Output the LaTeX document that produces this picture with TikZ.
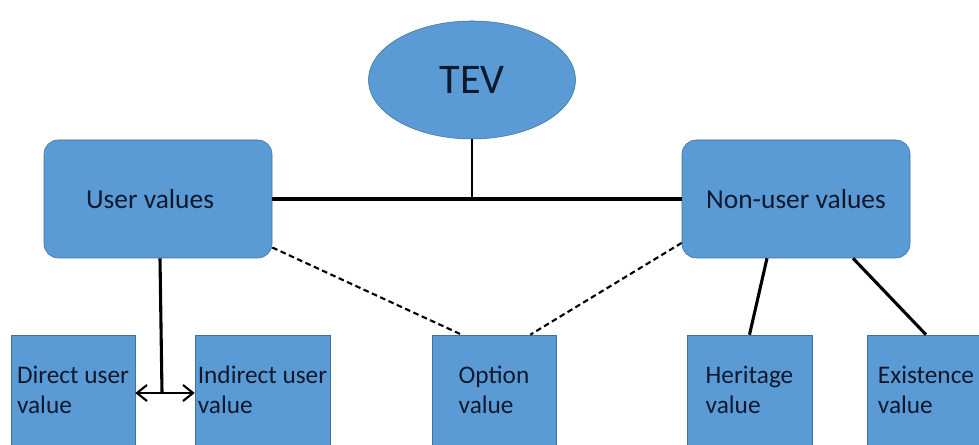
\documentclass[tikz,border=0pt]{standalone}
\usepackage{fontspec}
\setmainfont{Carlito}
\usepackage{tikz}
\usetikzlibrary{shapes.geometric, arrows.meta, positioning}
\definecolor{cFill}{RGB}{91,155,213}
\definecolor{cEdge}{RGB}{65,113,156}
\definecolor{cText}{RGB}{15,25,45}
\tikzset{
	topnode/.style ={ellipse, minimum width=5.175cm, minimum height=2.95cm, text centered, draw=cEdge, fill=cFill, text=cText, font=\fontsize{30}{34}\selectfont},
	groupbox/.style={rectangle, rounded corners=10pt, minimum width=5.7cm, minimum height=2.95cm, text centered, draw=cEdge, fill=cFill, text=cText, font=\fontsize{19.5}{23}\selectfont},
	leafbox/.style ={rectangle, minimum width=3.1cm, minimum height=2.75cm, align=left, inner sep=2pt, draw=cEdge, fill=cFill, text=cText, font=\fontsize{18}{21.5}\selectfont},
	tieline/.style ={line width=2.2pt},
	optline/.style ={line width=1.5pt, dash pattern=on 4pt off 2.5pt},
	% arrow between the two user values
	splitarrow/.style={{Straight Barb[length=2.5mm, width=4mm]}-{Straight Barb[length=2.5mm, width=4mm]}, line width=1.5pt},
}

\begin{document}
\begin{tikzpicture}
	\useasboundingbox (0,0) rectangle (24.475,11.125);
	\clip (0,0) rectangle (24.475,11.125);
	\node[topnode] (tev) at (11.8,9.125) {TEV};
	\node[groupbox] (user) at (3.95,6.15) {User values\hspace*{0.4cm}};
	\node[groupbox] (nonuser) at (19.9,6.15) {Non-user values};
	\node[leafbox] (direct) at (1.825,1.375) {Direct user\\value};
	\node[leafbox, minimum width=3.375cm] (indirect) at (6.5625,1.375) {Indirect user\\value};
	\node[leafbox] (option) at (12.35,1.375) {Option\\value};
	\node[leafbox, minimum width=3.125cm] (heritage) at (18.7375,1.375) {Heritage\\value};
	\node[leafbox, minimum width=2.95cm] (existence) at (23.15,1.375) {Existence\\value};
	\coordinate (fork) at (4.05,1.3);
	% solid links
	\draw[tieline] (user.east) -- (nonuser.west);
	\draw[line width=1.3pt] (tev.south) -- (tev.south |- user.east);
	\draw[tieline] ([xshift=0.05cm]user.south) -- (fork);
	\draw[splitarrow] (direct.east |- fork) -- (indirect.west |- fork);
	\draw[tieline] ([xshift=-0.725cm]nonuser.south) -- (heritage.north);
	\draw[tieline] ([xshift=1.425cm]nonuser.south) -- (existence.north);
	% dashed links to option value
	\draw[optline] (user.-23) -- ([xshift=0.75cm]option.north west);
	\draw[optline] (nonuser.201) -- ([xshift=-0.65cm]option.north east);
\end{tikzpicture}
\end{document}
